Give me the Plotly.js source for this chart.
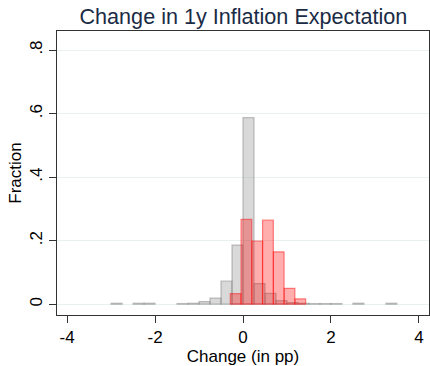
<!DOCTYPE html>
<html>
<head>
<meta charset="utf-8">
<script src="https://cdn.plot.ly/plotly-3.0.1.min.js"></script>
<style>html,body{margin:0;padding:0;background:#fff;}#chart{width:430px;height:366px;}</style>
</head>
<body>
<div id="chart"></div>
<script>
// Gray histogram: bin centers (pp) and fractions
const grayBinCenters = [-2.875, -2.375, -2.125, -1.375, -1.125, -0.875, -0.625, -0.375, -0.125, 0.125, 0.375, 0.625, 0.875, 1.125, 1.375, 1.625, 1.875, 2.125, 2.625, 3.375];
const grayFraction   = [0.003, 0.003, 0.003, 0.002, 0.003, 0.008, 0.019, 0.073, 0.186, 0.587, 0.065, 0.034, 0.011, 0.005, 0.003, 0.002, 0.002, 0.002, 0.003, 0.003];
// Red histogram: bin centers (pp) and fractions
const redBinCenters = [-0.1675, 0.0775, 0.3225, 0.5675, 0.8125, 1.0575, 1.3025];
const redFraction   = [0.033, 0.267, 0.199, 0.265, 0.165, 0.050, 0.017];
const grayBinWidth = 0.25;
const redBinWidth = 0.245;

const xTickVals = [-4, -2, 0, 2, 4];
const xTickText = ['-4', '-2', '0', '2', '4'];
const yTickVals = [0, 0.2, 0.4, 0.6, 0.8];
const yTickText = ['0', '.2', '.4', '.6', '.8'];

const font = 'Liberation Sans, Arial, sans-serif';

const traces = [
  {
    type: 'bar', x: grayBinCenters, y: grayFraction,
    width: grayBinCenters.map(() => grayBinWidth),
    marker: {color: 'rgba(160,160,160,0.4)', line: {color: 'rgba(130,130,130,0.5)', width: 1.2}},
    hoverinfo: 'x+y', showlegend: false
  },
  {
    type: 'bar', x: redBinCenters, y: redFraction,
    width: redBinCenters.map(() => redBinWidth),
    marker: {color: 'rgba(255,0,0,0.32)', line: {color: 'rgba(255,0,0,0.45)', width: 1.2}},
    hoverinfo: 'x+y', showlegend: false
  }
];

const layout = {
  width: 430, height: 366,
  margin: {l: 57, r: 1, t: 31, b: 51},
  paper_bgcolor: '#ffffff', plot_bgcolor: '#ffffff',
  barmode: 'overlay',
  font: {family: font, color: '#000000'},
  title: {text: 'Change in 1y Inflation Expectation', font: {family: font, size: 21.6, color: '#1a2b45'}, x: 0.566, xanchor: 'center', y: 0.955, yanchor: 'middle'},
  xaxis: {
    range: [-4.23, 4.23], tickvals: xTickVals, ticktext: xTickText,
    ticks: 'outside', ticklen: 7, tickcolor: '#333333', tickwidth: 1,
    showline: true, linecolor: '#333333', linewidth: 1, mirror: true,
    showgrid: false, zeroline: false,
    tickfont: {family: font, size: 17, color: '#000'},
    title: {text: 'Change (in pp)', font: {family: font, size: 17, color: '#000'}, standoff: 2}
  },
  yaxis: {
    range: [-0.034, 0.86], tickvals: yTickVals, ticktext: yTickText, tickangle: -90,
    ticks: 'outside', ticklen: 7, tickcolor: '#333333', tickwidth: 1,
    showline: true, linecolor: '#333333', linewidth: 1, mirror: true,
    showgrid: true, gridcolor: '#e8f0f2', gridwidth: 1, zeroline: false,
    tickfont: {family: font, size: 17, color: '#000'},
    title: {text: 'Fraction', font: {family: font, size: 17, color: '#000'}, standoff: 1}
  }
};

Plotly.newPlot('chart', traces, layout, {displayModeBar: false, staticPlot: true});
</script>
</body>
</html>
